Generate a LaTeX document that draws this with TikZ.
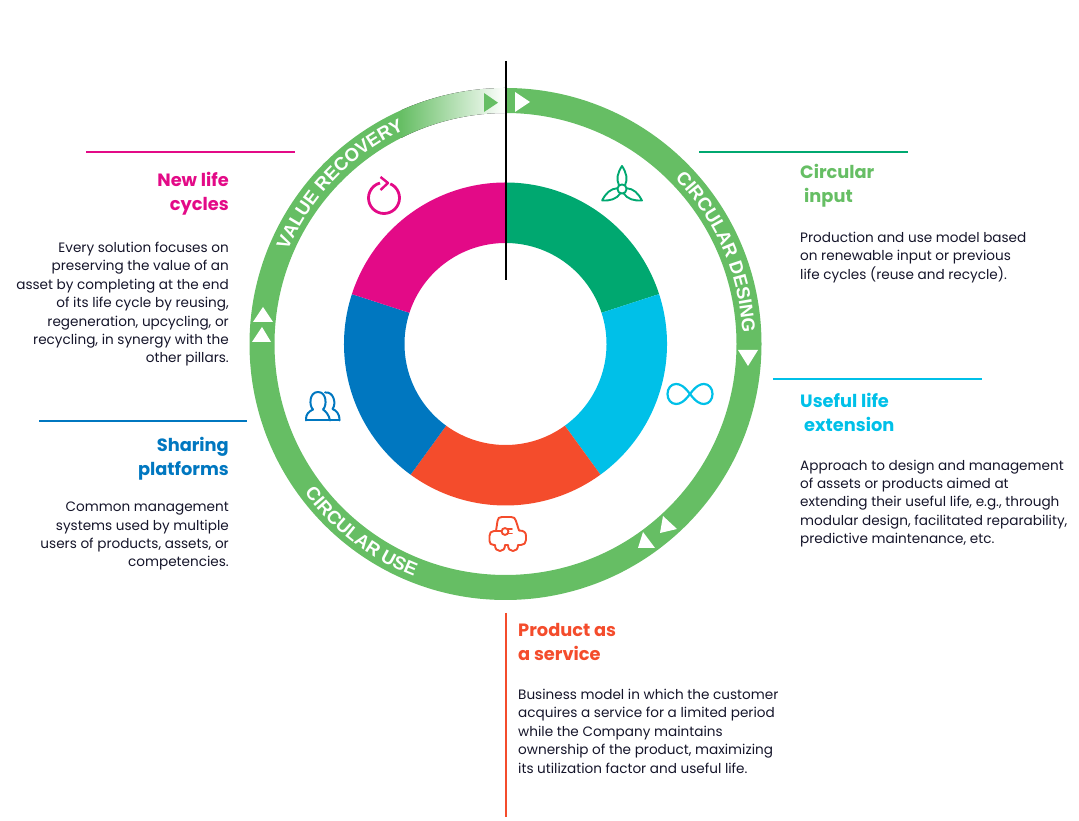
\documentclass[tikz,border=0pt]{standalone}
\usepackage{fontspec}
\setmainfont{Poppins}
\newfontfamily\ringfam{Liberation Sans}
\usetikzlibrary{decorations.text}
\definecolor{ringg}{HTML}{66BE64}
\definecolor{cgreen}{HTML}{00A870}
\definecolor{ccyan}{HTML}{00C0E8}
\definecolor{corange}{HTML}{F44C2C}
\definecolor{cblue}{HTML}{0077C0}
\definecolor{cmag}{HTML}{E30A87}
\definecolor{bodyc}{HTML}{15152A}
\newcommand{\ringfont}{\ringfam\fontsize{18.5}{18.5}\selectfont\color{white}\bfseries}
\newcommand{\annsec}[4]{(#1:#3) arc[start angle=#1,end angle=#2,radius=#3] -- (#2:#4) arc[start angle=#2,end angle=#1,radius=#4] -- cycle}
\tikzset{
  x=1pt,y=1pt,
  rulel/.style={line width=1.6pt},
  headl/.style={font=\fontsize{17.8}{24}\selectfont\bfseries,inner sep=0pt,anchor=north west,align=left},
  headr/.style={font=\fontsize{17.8}{24}\selectfont\bfseries,inner sep=0pt,anchor=north east,align=right},
  bodyl/.style={font=\fontsize{13.6}{18.4}\selectfont,text=bodyc,inner sep=0pt,anchor=north west,align=left},
  bodyr/.style={font=\fontsize{13.6}{18.4}\selectfont,text=bodyc,inner sep=0pt,anchor=north east,align=right},
  icon/.style={line width=1.9pt,line join=round,line cap=round},
  ringtext/.style={decorate,decoration={text along path,text align=center,text={|\ringfont|#1}}},
  wtri/.style={fill=white,draw=none}
}
\begin{document}
\begin{tikzpicture}
\useasboundingbox (0,0) rectangle (1079,821);
% image px to picture: y' = 821 - y
\begin{scope}[shift={(505.5,477)}]
  % outer ring
  \fill[ringg] \annsec{90}{-225}{256}{231};
  \begin{scope}
    \clip \annsec{90}{135.5}{256}{231};
    \fill[left color=ringg,right color=white] (-105,200) rectangle (0,260);
    \fill[ringg] (-200,150) rectangle (-104.5,260);
  \end{scope}
  % donut
  \fill[cgreen] \annsec{90}{18}{161.5}{101};
  \fill[ccyan] \annsec{18}{-54}{161.5}{101};
  \fill[corange] \annsec{-54}{-126}{161.5}{101};
  \fill[cblue] \annsec{-126}{-198}{161.5}{101};
  \fill[cmag] \annsec{162}{90}{161.5}{101};
  % ring labels
  \path[ringtext={VALUE RECOVERY}] (158:237) arc[start angle=158,end angle=114,radius=237];
  \path[ringtext={CIRCULAR DESING}] (47:237) arc[start angle=47,end angle=0,radius=237];
  \path[ringtext={CIRCULAR USE}] (212:250) arc[start angle=212,end angle=253,radius=250];
\end{scope}
% triangles in the ring
\fill[ringg] (484,728) -- (484,709) -- (498,718.3) -- cycle;
\fill[wtri] (515,729) -- (515,709) -- (530,719) -- cycle;
\fill[wtri] (738,471) -- (758,471) -- (748,455) -- cycle;
\fill[wtri] (663,305) -- (677,292) -- (660,288) -- cycle;
\fill[wtri] (643,289) -- (655,273) -- (638,273) -- cycle;
\fill[wtri] (263,514) -- (253,499) -- (273,499) -- cycle;
\fill[wtri] (262,494) -- (252,479) -- (271,479) -- cycle;
% axes and rules
\draw[line width=2pt,black] (506,760) -- (506,541);
\draw[rulel,line width=1.8pt,corange] (505.7,208) -- (505.7,4);
\draw[rulel,cmag] (86,669) -- (295,669);
\draw[rulel,cgreen] (699,669.2) -- (908,669.2);
\draw[rulel,ccyan] (773,442) -- (982,442);
\draw[rulel,cblue] (39,400) -- (247,400);
% refresh icon
\draw[icon,cmag,line width=2.8pt,line cap=butt] (384,623) ++(66:15.5) arc[start angle=66,end angle=-255,radius=15.5];
\draw[icon,cmag,line width=2.4pt,line cap=butt] (380.5,644) -- (388,638) -- (380.5,631);
% turbine icon
\begin{scope}[shift={(622,632)},icon,cgreen]
  \foreach \r in {0,120,240}{
    \draw[rotate=\r] (-3,3.6) .. controls (-6,10) and (-4.5,16) .. (0,23) .. controls (4.5,16) and (6,10) .. (3,3.6);
  }
  \draw (0,0) circle[radius=4.6];
\end{scope}
% infinity icon
\draw[icon,ccyan,line width=2.2pt] (690,427) .. controls (684,435) and (680,437) .. (676,437)
  .. controls (671,437) and (667.5,432.5) .. (667.5,427) .. controls (667.5,421.5) and (671,417) .. (676,417)
  .. controls (680,417) and (684,419) .. (690,427) .. controls (696,435) and (700,437) .. (704,437)
  .. controls (709,437) and (712.5,432.5) .. (712.5,427) .. controls (712.5,421.5) and (709,417) .. (704,417)
  .. controls (700,417) and (696,419) .. (690,427);
% people icon
\begin{scope}[icon,cblue,line width=2pt]
  \draw (306,400.5) -- (339.5,400.5);
  \draw (306,400.5) .. controls (305.5,407) and (309,409.5) .. (313,411.5) .. controls (309,415) and (309,429) .. (318,429)
    .. controls (327,429) and (327,415) .. (323,411.5) .. controls (326,409.5) and (329,406) .. (330,400.5);
  \draw (325,428.5) .. controls (333,430) and (337,418) .. (332.5,412) .. controls (336,410.5) and (339.5,408) .. (339.5,400.5);
\end{scope}
% car icon
\begin{scope}[icon,corange]
  \draw (496,290) -- (497.5,300) .. controls (498,303) and (499,304) .. (502,304) -- (511,304) .. controls (514,304) and (515,303) .. (516,300) -- (519,290.5);
  \draw (501.5,290) -- (494,290) .. controls (491,290) and (489.5,288) .. (489.5,285) -- (489.5,280)
    .. controls (489.5,277.5) and (491,276) .. (494,276) -- (495,276) .. controls (495,272) and (497,270) .. (500,270)
    .. controls (503,270) and (505,272) .. (505,276) -- (508,276) .. controls (508,272) and (510,270) .. (513,270)
    .. controls (516,270) and (518,272) .. (518,276) -- (521,276) .. controls (524,276) and (526,278) .. (526,281)
    -- (526,285) .. controls (526,288.5) and (524,290.5) .. (519,290.5);
  \draw (505,289.5) circle[radius=3.4];
  \draw[line width=1.6pt] (508,292) -- (512,292) (508,287.5) -- (512,287.5);
\end{scope}
% texts
\node[headr,text=cmag] (h1) at (229,649) {New life\\cycles};
\node[bodyr] (b1) at (229,579) {Every solution focuses on\\preserving the value of an\\asset by completing at the end\\of its life cycle by reusing,\\regeneration, upcycling, or\\recycling, in synergy with the\\other pillars.};
\node[headr,text=cblue] (h2) at (229,384) {Sharing\\platforms};
\node[bodyr] (b2) at (229,319) {Common management\\systems used by multiple\\users of products, assets, or\\competencies.};
\node[headl,text=ringg] (h3) at (800,657) {Circular\\\hspace*{4pt}input};
\node[bodyl] (b3) at (800,589) {Production and use model based\\on renewable input or previous\\life cycles (reuse and recycle).};
\node[headl,text=ccyan] (h4) at (800,428) {Useful life\\\hspace*{4pt}extension};
\node[bodyl] (b4) at (800,361.5) {Approach to design and management\\of assets or products aimed at\\extending their useful life, e.g., through\\modular design, facilitated reparability,\\predictive maintenance, etc.};
\node[headl,text=corange] (h5) at (518,198) {Product as\\a service};
\node[bodyl] (b5) at (518,132) {Business model in which the customer\\acquires a service for a limited period\\while the Company maintains\\ownership of the product, maximizing\\its utilization factor and useful life.};
\end{tikzpicture}
\end{document}
